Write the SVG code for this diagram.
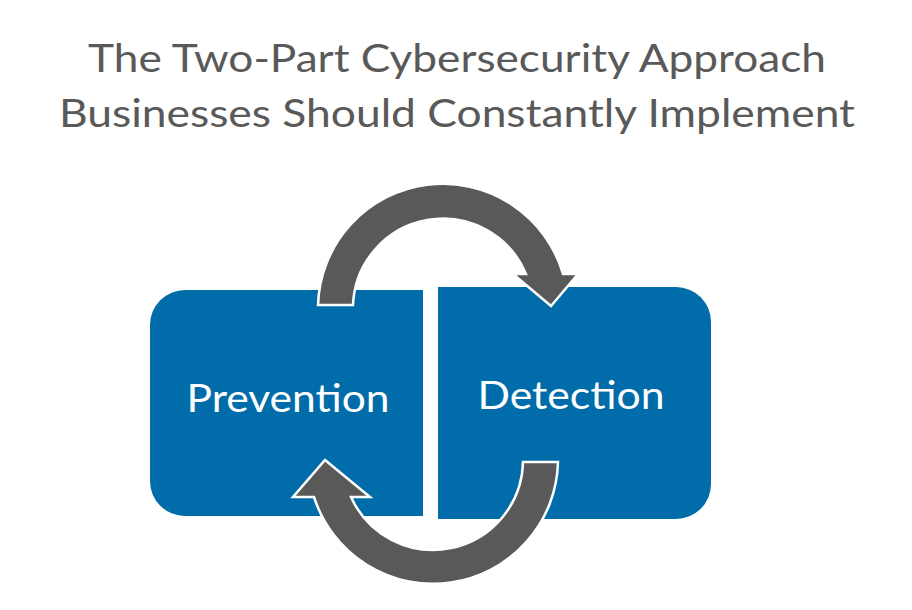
<svg xmlns="http://www.w3.org/2000/svg" width="912" height="610" viewBox="0 0 912 610">
<style>
.t{font-family:Lato,"Open Sans",sans-serif;fill:#595959;font-size:39px;text-anchor:middle}
.l{font-family:Lato,"Open Sans",sans-serif;fill:#fff;font-size:39px;text-anchor:middle}
.box{fill:#006ca9}
.arr{fill:#595959;stroke:#fff;stroke-width:2.5;stroke-linejoin:miter}
</style>
<rect width="912" height="610" fill="#fff"/>
<text class="t" x="457" y="72" textLength="738" lengthAdjust="spacingAndGlyphs">The Two-Part Cybersecurity Approach</text>
<text class="t" x="457" y="127" textLength="796" lengthAdjust="spacingAndGlyphs">Businesses Should Constantly Implement</text>
<g id="prevention">
<path class="box" d="M185,290 H423 V516 H185 A35,35 0 0 1 150,481 V325 A35,35 0 0 1 185,290 Z"/>
<text class="l" x="288" y="412" textLength="203" lengthAdjust="spacingAndGlyphs">Prevention</text>
</g>
<g id="detection">
<path class="box" d="M438,287 H676 A35,35 0 0 1 711,322 V484 A35,35 0 0 1 676,519 H438 Z"/>
<text class="l" x="571" y="409" textLength="187" lengthAdjust="spacingAndGlyphs">Detection</text>
</g>
<g id="connectors">
<path class="arr" d="M318,305 A125,125 0 0 1 563,274 L578,274 L551,306 L513,274 L526,274 A90,90 0 0 0 353,305 Z"/>
<path class="arr" d="M558,462 A125,125 0 0 1 314,497 L293,497 L325,460 L370,497 L351,497 A90,90 0 0 0 523,462 Z"/>
</g>
</svg>
